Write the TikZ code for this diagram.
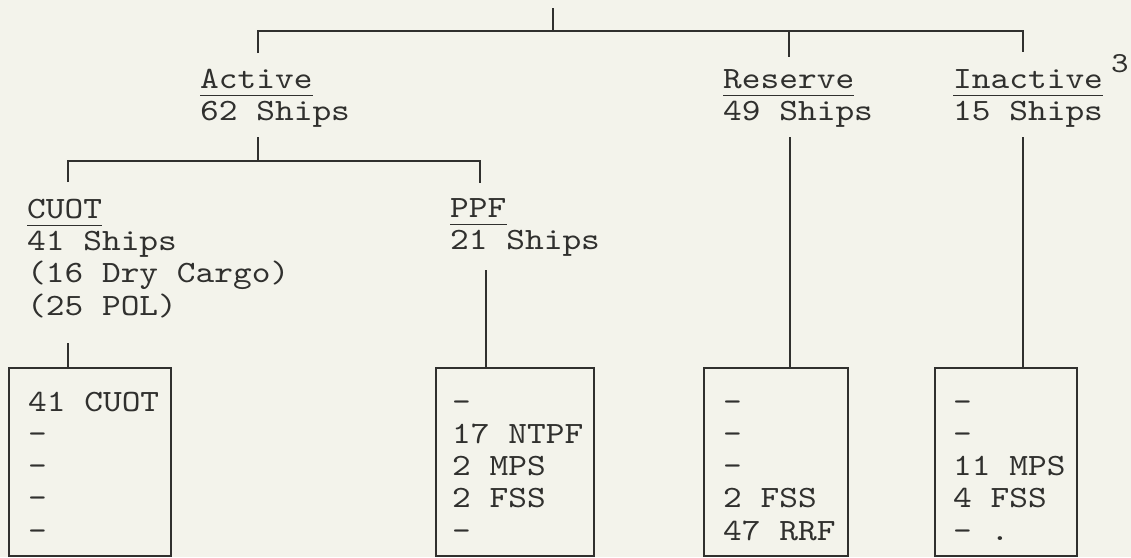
\documentclass[tikz,border=0pt]{standalone}
\usepackage{fontspec}
\newfontfamily\tw{lmmono10-regular}[Extension=.otf, FakeStretch=1.15]
\definecolor{paper}{RGB}{243,243,235}
\definecolor{ink}{RGB}{48,48,46}
\tikzset{
  txt/.style={font=\tw\fontsize{31}{32}\selectfont, anchor=base west, inner sep=0pt, text=ink},
  supr/.style={font=\tw\fontsize{29}{30}\selectfont, anchor=base west, inner sep=0pt, text=ink},
  ln/.style={line width=1.5pt, draw=ink},
  bx/.style={draw=ink, line width=1.7pt, anchor=north west, inner sep=0pt},
  ul/.style={line width=1.4pt, draw=ink}
}
\begin{document}
\begin{tikzpicture}[x=1pt,y=-1pt]
\fill[paper] (0,0) rectangle (1131,557);
\useasboundingbox (0,0) rectangle (1131,557);

% ---- headings ----
\node[txt] (act) at (200,88) {Active};
\node[txt] (actn) at (200,120) {62 Ships};
\node[txt] (res) at (723,88) {Reserve};
\node[txt] (resn) at (723,120) {49 Ships};
\node[txt] (ina) at (953,88) {Inactive};
\node[supr] (sup3) at (1111,72) {3};
\node[txt] (inan) at (953,120) {15 Ships};

\node[txt] (cuot) at (27,218) {CUOT};
\node[txt] (cuotn) at (27,250) {41 Ships};
\node[txt] (cuotd) at (27,282) {(16 Dry Cargo)};
\node[txt] (cuotp) at (27,315) {(25 POL)};
\node[txt] (ppf) at (450,217) {PPF};
\node[txt] (ppfn) at (450,249) {21 Ships};

% underlines
\foreach \n in {act,res,ina,cuot,ppf}
  \draw[ul] ([yshift=-7.5pt]\n.base west) -- ([yshift=-7.5pt]\n.base east);

% ---- boxes ----
\node[bx, minimum width=162pt, minimum height=188pt] (bc) at (8,367) {};
\node[bx, minimum width=158pt, minimum height=188pt] (bp) at (435,367) {};
\node[bx, minimum width=144pt, minimum height=188pt] (br) at (703,367) {};
\node[bx, minimum width=142pt, minimum height=188pt] (bi) at (934,367) {};

\foreach \t [count=\i] in {41 CUOT,-,-,-,-}
  \node[txt] (c\i) at (28,{411+32.3*(\i-1)}) {\t};
\foreach \t [count=\i] in {-,17 NTPF,2 MPS,2 FSS,-}
  \node[txt] (p\i) at (452,{411+32.3*(\i-1)}) {\t};
\foreach \t [count=\i] in {-,-,-,2 FSS,47 RRF}
  \node[txt] (r\i) at (723,{411+32.3*(\i-1)}) {\t};
\foreach \t [count=\i] in {-,-,11 MPS,4 FSS,- .}
  \node[txt] (i\i) at (953,{411+32.3*(\i-1)}) {\t};

% ---- connector points ----
\coordinate (top) at (553,8);
\coordinate (jt) at (553,31);
\coordinate (ja) at (258,31);
\coordinate (jr) at (789,31);
\coordinate (ji) at (1023,31);
\coordinate (ja2) at (258,137);
\coordinate (jm) at (258,161);
\coordinate (jc) at (68,161);
\coordinate (jp) at (480,161);
\coordinate (jc2) at (68,343);
\coordinate (jp2) at (486,270);
\coordinate (jr2) at (790,137);
\coordinate (ji2) at (1023,137);

\draw[ln] (top) -- (jt);
\draw[ln] (ja) ++(0,22) -- (ja) -- (ji) -- ++(0,21);
\draw[ln] (jr) -- ++(0,26);
\draw[ln] (ja2) -- (jm);
\draw[ln] (jc) ++(0,21) -- (jc) -- (jp) -- ++(0,22);
\draw[ln] (jc2) -- (jc2 |- bc.north);
\draw[ln] (jp2) -- (jp2 |- bp.north);
\draw[ln] (jr2) -- (jr2 |- br.north);
\draw[ln] (ji2) -- (ji2 |- bi.north);
\end{tikzpicture}
\end{document}
